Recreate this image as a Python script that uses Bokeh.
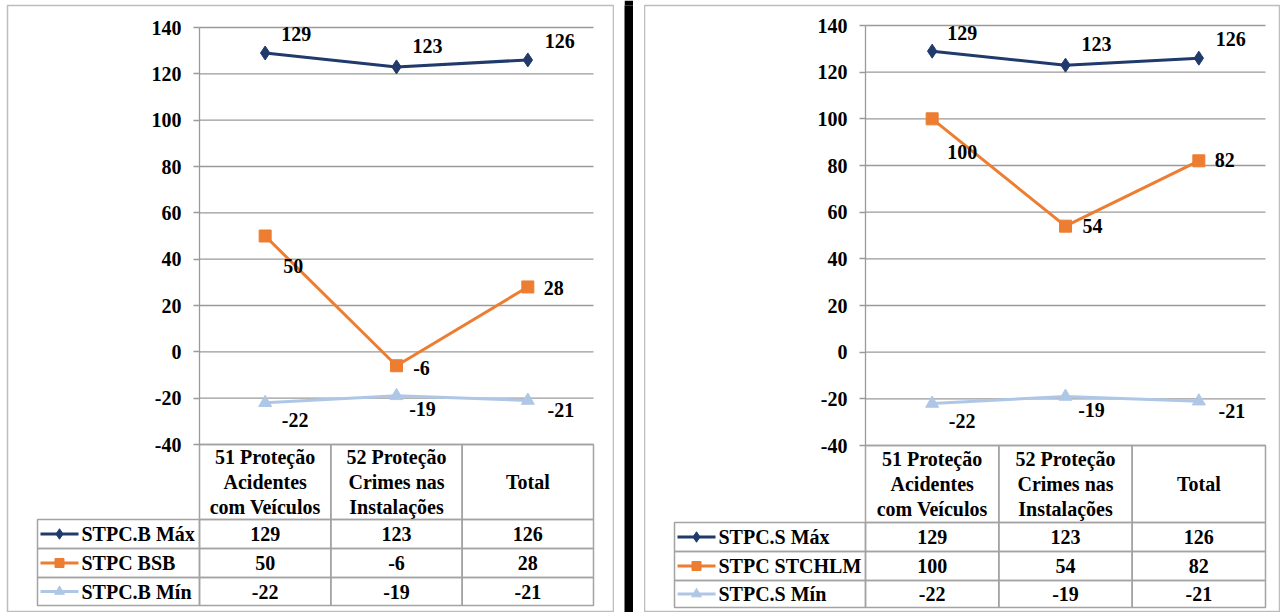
from bokeh.plotting import figure
from bokeh.models import (Range1d, LinearAxis, FixedTicker, ColumnDataSource, Spacer,
                          PrintfTickFormatter)
from bokeh.layouts import row
from bokeh.core.properties import value
from bokeh.embed import file_html
from bokeh.resources import INLINE

# ---------------- data ----------------
categories = ["51 Proteção\nAcidentes\ncom Veículos",
              "52 Proteção\nCrimes nas\nInstalações",
              "Total"]
y_ticks = [-40, -20, 0, 20, 40, 60, 80, 100, 120, 140]

left_names = ["STPC.B Máx", "STPC BSB", "STPC.B Mín"]
left_max = [129, 123, 126]
left_mid = [50, -6, 28]
left_min = [-22, -19, -21]

right_names = ["STPC.S Máx", "STPC STCHLM", "STPC.S Mín"]
right_max = [129, 123, 126]
right_mid = [100, 54, 82]
right_min = [-22, -19, -21]

# ---------------- style ----------------
FONT = "Liberation Serif"
NAVY = "#1f3a6b"
ORANGE = "#ED7D31"
LIGHT = "#AFC7E6"
GRID = "#9a9a9a"
TBL = "#a3a3a3"
H = 612
YMIN, YMAX = -40, 140
NCAT = len(categories)
xs = [i + 0.5 for i in range(NCAT)]

colors = [NAVY, ORANGE, LIGHT]
markers = ["diamond", "square", "triangle"]
msizes = [14, 12, 13]


def txt(p, x, y, t, align="center", xo=None, yo=None):
    n = len(x)
    src = ColumnDataSource(dict(x=x, y=y, t=t,
                                xo=xo if xo is not None else [0] * n,
                                yo=yo if yo is not None else [0] * n))
    p.text(x="x", y="y", text="t", x_offset="xo", y_offset="yo", source=src,
           text_font=value(FONT), text_font_style="bold", text_font_size="20px",
           text_color="black", text_align=align, text_baseline="middle",
           text_line_height=1.15)


def build_panel(width, border_left, border_top, geo, names, series, offsets):
    x0, x3, y140, ym40, legx, rows = geo
    fw = width - border_left
    fh = H - border_top
    cw = (x3 - x0) / NCAT
    k = (ym40 - y140) / (YMAX - YMIN)

    def dx(px):
        return (px - x0) / cw

    def dy(py):
        return YMAX - (py - y140) / k

    p = figure(width=width, height=H, x_range=Range1d(dx(0), dx(fw)),
               y_range=Range1d(dy(fh), dy(0)), output_backend="svg",
               toolbar_location=None, x_axis_location=None, y_axis_location=None,
               min_border=0, min_border_left=border_left, min_border_top=border_top,
               outline_line_color="#bdbdbd", outline_line_width=1.5,
               background_fill_color="white", border_fill_color="white")
    p.xgrid.visible = False
    p.ygrid.visible = False

    # grid lines over plot area
    n = len(y_ticks)
    p.segment(x0=[0] * n, y0=y_ticks, x1=[NCAT] * n, y1=y_ticks,
              line_color=GRID, line_width=1.3)

    ax = LinearAxis(fixed_location=0, bounds=(YMIN, YMAX),
                    ticker=FixedTicker(ticks=y_ticks),
                    formatter=PrintfTickFormatter(format="%d"),
                    axis_line_color=GRID, axis_line_width=1.3,
                    major_tick_line_color=GRID, major_tick_line_width=1.3,
                    major_tick_out=6, major_tick_in=0, minor_tick_line_color=None,
                    major_label_text_font=FONT, major_label_text_font_style="bold",
                    major_label_text_font_size="20px", major_label_text_color="black",
                    major_label_standoff=12)
    p.add_layout(ax, "left")

    # data table: header
    lefts = list(range(NCAT))
    rights = [i + 1 for i in range(NCAT)]
    p.quad(left=lefts, right=rights, top=dy(rows[0]), bottom=dy(rows[1]),
           fill_color=None, line_color=TBL, line_width=1.5)
    txt(p, xs, [dy((rows[0] + rows[1]) / 2)] * NCAT, categories)

    # data table: series rows
    for r, (name, vals, col, mk, ms) in enumerate(zip(names, series, colors, markers, msizes)):
        top, bot = rows[r + 1], rows[r + 2]
        ym = dy((top + bot) / 2)
        p.quad(left=[dx(legx)] + lefts, right=[0] + rights, top=dy(top), bottom=dy(bot),
               fill_color=None, line_color=TBL, line_width=1.5)
        p.line([dx(legx + 3), dx(legx + 41)], [ym, ym], line_color=col, line_width=3)
        p.scatter([dx(legx + 22)], [ym], marker=mk, size=ms * 0.75,
                  fill_color=col, line_color=col)
        txt(p, [dx(legx + 44)], [ym], [name], align="left")
        txt(p, xs, [ym] * NCAT, [str(v) for v in vals])

    # chart series
    for vals, col, mk, ms in reversed(list(zip(series, colors, markers, msizes))):
        p.line(xs, vals, line_color=col, line_width=3)
        p.scatter(xs, vals, marker=mk, size=ms, fill_color=col, line_color=col)
    for vals, offs in zip(series, offsets):
        txt(p, xs, vals, [str(v) for v in vals],
            xo=[o[0] for o in offs], yo=[o[1] for o in offs])
    return p


left_offsets = [[(31, -19), (31, -21), (32, -19)],
                [(28, 30), (25, 2), (26, 1)],
                [(30, 17), (26, 13), (33, 10)]]
right_offsets = [[(30, -18), (31, -21), (32, -19)],
                 [(30, 33), (27, 0), (26, -1)],
                 [(30, 17), (26, 13), (33, 10)]]

# geometry in frame pixels: axis x, right x, y(140), y(-40), legend col x, table row edges
left = build_panel(614, 7, 5, (192, 586, 22, 439, 30, [439, 514, 543, 572, 600]),
                   left_names, [left_max, left_mid, left_min], left_offsets)
right = build_panel(636, 0, 5, (221, 621, 20, 440, 30, [440, 517, 546, 575, 602]),
                    right_names, [right_max, right_mid, right_min], right_offsets)

bar = figure(width=9, height=H, output_backend="svg", toolbar_location=None,
             x_axis_location=None, y_axis_location=None, min_border=0,
             x_range=Range1d(0, 1), y_range=Range1d(0, 1),
             background_fill_color="black", border_fill_color="black",
             outline_line_color=None)
bar.xgrid.visible = False
bar.ygrid.visible = False

layout = row(left, Spacer(width=10, height=H), bar, Spacer(width=11, height=H), right)

open("out.html", "w").write(file_html(layout, INLINE))
